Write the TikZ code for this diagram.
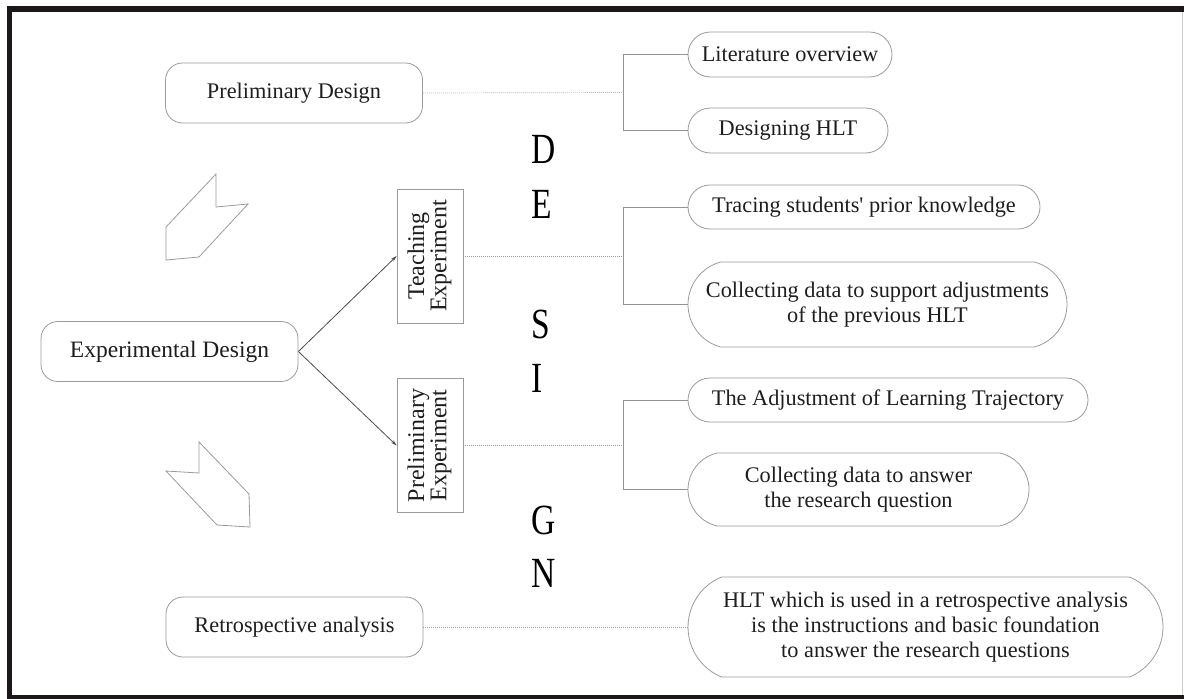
\documentclass[tikz,border=0pt]{standalone}
\usepackage{fontspec}
\setmainfont{Liberation Serif}
\usetikzlibrary{shapes.misc,arrows.meta}
\newcommand\bigletter[1]{\scalebox{0.78}[1]{\fontsize{43}{43}\selectfont #1}}
\definecolor{framecol}{HTML}{1C1818}
\definecolor{outl}{HTML}{9A9A9A}
\definecolor{txt}{HTML}{1E1E1E}
\begin{document}
\begin{tikzpicture}[x=1pt,y=-1pt,
  lbox/.style={draw=outl,line width=0.8pt,rounded corners=17pt,minimum width=257pt,minimum height=60pt,inner sep=0pt,text=txt,font=\fontsize{22.3}{25}\selectfont},
  rbox/.style={draw=outl,line width=0.8pt,rounded rectangle,inner sep=0pt,text=txt,align=center,font=\fontsize{22.3}{25}\selectfont},
  vbox/.style={draw=outl,line width=0.8pt,minimum width=66pt,minimum height=134pt,inner sep=0pt,text=txt,font=\fontsize{24}{21}\selectfont},
  dotline/.style={draw=outl,line width=0.7pt,dash pattern=on 0.8pt off 1.2pt},
  brk/.style={draw=gray!85,line width=0.8pt},
  arr/.style={draw=black!70,line width=0.8pt,-{Stealth[length=6pt,width=3.5pt]}},
  chev/.style={draw=outl,line width=0.8pt,line join=miter},
  letter/.style={anchor=base west,inner sep=0pt,text=black}]

\useasboundingbox (0,0) rectangle (1184,699);

% frame
\fill[framecol] (7,6) rectangle (1184,12);
\fill[framecol] (7,6) rectangle (12,699);
\fill[framecol] (7,695) rectangle (1184,699);
\draw[gray!40,line width=1pt] (1182,12) -- (1182,695);

% left boxes
\node[lbox] (pd) at (294,93) {Preliminary Design};
\node[lbox,font=\fontsize{23.5}{25}\selectfont] (ed) at (169.5,351.5) {Experimental Design};
\node[lbox] (ra) at (294.5,627) {Retrospective analysis};

% vertical boxes
\node[vbox] (te) at (430,256) {\rotatebox{90}{\begin{tabular}{@{}c@{}}Teaching\\Experiment\end{tabular}}};
\node[vbox] (pe) at (430,445.5) {\rotatebox{90}{\begin{tabular}{@{}c@{}}Preliminary\\Experiment\end{tabular}}};

% right boxes
\node[rbox,minimum width=204pt,minimum height=45pt] (lo) at (790,54.5) {Literature overview};
\node[rbox,minimum width=200pt,minimum height=45pt] (dh) at (788,130.5) {Designing HLT};
\node[rbox,minimum width=352pt,minimum height=44pt] (tr) at (864,207) {Tracing students\textquotesingle{} prior knowledge};
\node[rbox,rounded rectangle arc length=150,minimum width=379pt,minimum height=85pt] (cs) at (877.5,304.5) {Collecting data to support adjustments\\of the previous HLT};
\node[rbox,minimum width=400pt,minimum height=44pt] (ad) at (888,400) {The Adjustment of Learning Trajectory};
\node[rbox,rounded rectangle arc length=155,minimum width=341pt,minimum height=73pt] (ca) at (858.5,489.5) {Collecting data to answer\\the research question};
\node[rbox,rounded rectangle arc length=135,minimum width=475pt,minimum height=100pt] (hl) at (925.5,627) {HLT which is used in a retrospective analysis\\is the instructions and basic foundation\\to answer the research questions};

% DESIGN letters
\node[letter] (l1) at (531,163) {\bigletter{D}};
\node[letter] (l2) at (531,218) {\bigletter{E}};
\node[letter] (l3) at (531,338) {\bigletter{S}};
\node[letter] (l4) at (531,392) {\bigletter{I}};
\node[letter] (l5) at (531,534) {\bigletter{G}};
\node[letter] (l6) at (531,587) {\bigletter{N}};

% bracket junctions
\coordinate (b1) at (623,92.5);
\coordinate (b2) at (623,256);
\coordinate (b3) at (623,445.5);

\draw[brk] (lo.west) -- (lo.west -| b1) -- (dh.west -| b1) -- (dh.west);
\draw[brk] (tr.west) -- (tr.west -| b2) -- (cs.west -| b2) -- (cs.west);
\draw[brk] (ad.west) -- (ad.west -| b3) -- (ca.west -| b3) -- (ca.west);

\draw[dotline] (pd.east) -- (b1);
\draw[dotline] (te.east) -- (b2);
\draw[dotline] (pe.east) -- (b3);
\draw[dotline] (ra.east) -- (hl.west);

% arrows
\draw[arr] (ed.east) -- (te.west);
\draw[arr] (ed.east) -- (pe.west);

% chevrons
\draw[chev] (216,174) -- (216,207) -- (248,204) -- (199,257) -- (166,260) -- (166,227) -- cycle;
\draw[chev] (199,442) -- (199,473) -- (166,471) -- (217,525) -- (250,527) -- (249,494) -- cycle;
\end{tikzpicture}
\end{document}
